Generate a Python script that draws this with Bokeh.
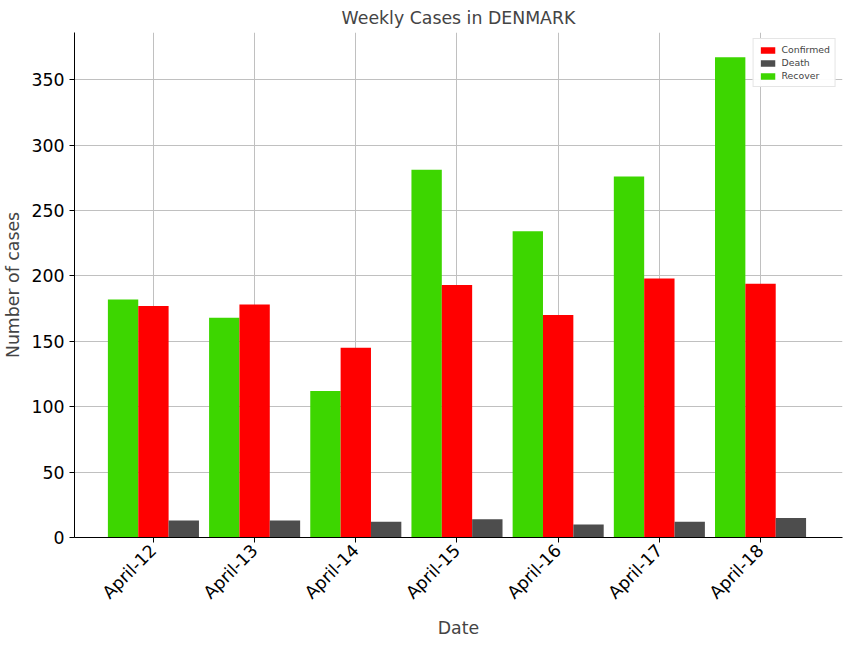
from bokeh.plotting import figure
from bokeh.models import ColumnDataSource, FixedTicker, Range1d, Legend, LegendItem
from bokeh.embed import file_html
from bokeh.resources import INLINE
import math

dates = ["April-12", "April-13", "April-14", "April-15", "April-16", "April-17", "April-18"]
recover = [182, 168, 112, 281, 234, 276, 367]
confirmed = [177, 178, 145, 193, 170, 198, 194]
death = [13, 13, 12, 14, 10, 12, 15]

x = list(range(len(dates)))
w = 0.3

p = figure(width=850, height=640, output_backend="svg", toolbar_location=None,
           x_range=Range1d(-0.78, 6.81), y_range=Range1d(0, 386),
           min_border_left=67, min_border_right=8, min_border_top=22, min_border_bottom=20)

src = ColumnDataSource(dict(x=x, xr=[i - w for i in x], xd=[i + w for i in x],
                            recover=recover, confirmed=confirmed, death=death))
r1 = p.vbar(x="xr", top="recover", width=w, source=src, fill_color="#3dd600", line_color=None)
r2 = p.vbar(x="x", top="confirmed", width=w, source=src, fill_color="#ff0000", line_color=None)
r3 = p.vbar(x="xd", top="death", width=w, source=src, fill_color="#4d4d4d", line_color=None)

p.title.text = "Weekly Cases in DENMARK"
p.title.align = "center"
p.title.text_font = "DejaVu Sans"
p.title.text_font_size = "13pt"
p.title.text_font_style = "normal"

p.xaxis.ticker = FixedTicker(ticks=x)
p.xaxis.major_label_overrides = {i: d for i, d in enumerate(dates)}
p.xaxis.major_label_orientation = math.pi / 4
p.yaxis.ticker = FixedTicker(ticks=[0, 50, 100, 150, 200, 250, 300, 350])
p.xaxis.axis_label = "Date"
p.yaxis.axis_label = "Number of cases"
for ax in (p.xaxis, p.yaxis):
    ax.axis_label_text_font = "DejaVu Sans"
    ax.axis_label_text_font_size = "13pt"
    ax.axis_label_text_font_style = "normal"
    ax.major_label_text_font = "DejaVu Sans"
    ax.major_label_text_font_size = "13pt"
    ax.major_label_text_color = "black"
    ax.axis_line_color = "black"
    ax.major_tick_line_color = "black"
    ax.minor_tick_line_color = None
    ax.major_tick_out = 5
    ax.major_tick_in = 0

p.xgrid.grid_line_color = "#c0c0c0"
p.ygrid.grid_line_color = "#c0c0c0"
p.outline_line_color = None

legend = Legend(items=[LegendItem(label="Confirmed", renderers=[r2]),
                       LegendItem(label="Death", renderers=[r3]),
                       LegendItem(label="Recover", renderers=[r1])],
                location="top_right", label_text_font_size="7pt", label_text_font="DejaVu Sans",
                glyph_height=8, glyph_width=18, label_height=8, spacing=2, padding=5,
                border_line_color="#cccccc", margin=6)
p.add_layout(legend)

open("out.html", "w").write(file_html(p, INLINE))
